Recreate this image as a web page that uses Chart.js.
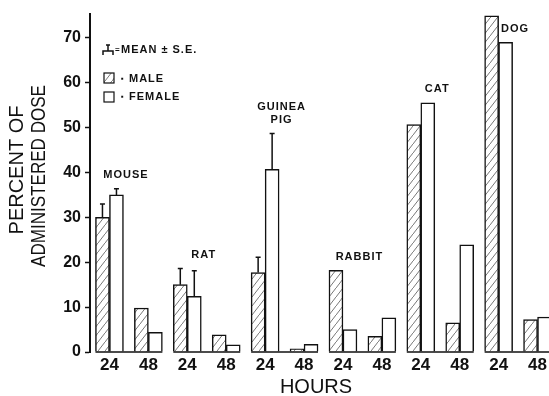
<!DOCTYPE html>
<html lang="en">
<head>
  <meta charset="UTF-8" />
  <title>Percent of Administered Dose</title>
  <script src="https://cdn.jsdelivr.net/npm/chart.js"></script>
  <style>
    html, body { margin: 0; padding: 0; background: #fff; overflow: hidden; }
  </style>
</head>
<body>
  <canvas id="doseChart" width="557" height="396"></canvas>

  <script>
    // values, percent of administered dose
    const species = ['MOUSE', 'RAT', 'GUINEA PIG', 'RABBIT', 'CAT', 'DOG'];
    const hours = ['24', '48'];
    const male24 = [30, 15, 17.7, 18.2, 50.7, 74.9];
    const female24 = [35, 12.4, 40.7, 5.0, 55.5, 69.0];
    const male48 = [9.8, 3.8, 0.7, 3.5, 6.5, 7.2];
    const female48 = [4.4, 1.6, 1.7, 7.6, 23.9, 7.8];
    // S.E. only shown for the 24 h bars of the first three species
    const maleErr24 = [3.0, 3.6, 3.4, null, null, null];
    const femaleErr24 = [1.4, 5.7, 8.0, null, null, null];
    const yTicks = [0, 10, 20, 30, 40, 50, 60, 70];

    const ink = '#111';
    const FONT = '"Liberation Sans", Arial, sans-serif';

    // one category per species/hour pair
    const labels = species.flatMap(() => hours);
    const maleData = species.flatMap((s, i) => [male24[i], male48[i]]);
    const femaleData = species.flatMap((s, i) => [female24[i], female48[i]]);
    const maleErr = species.flatMap((s, i) => [maleErr24[i], null]);
    const femaleErr = species.flatMap((s, i) => [femaleErr24[i], null]);

    // diagonal hatch for the male bars
    function makeHatch() {
      const c = document.createElement('canvas');
      c.width = 7; c.height = 9;
      const g = c.getContext('2d');
      g.fillStyle = '#fff';
      g.fillRect(0, 0, 7, 9);
      g.strokeStyle = '#555';
      g.lineWidth = 0.8;
      g.beginPath();
      g.moveTo(-1, 10.3); g.lineTo(8, -1.3);
      g.stroke();
      return g.createPattern(c, 'repeat');
    }
    const hatch = makeHatch();

    const figurePlugin = {
      id: 'figure',
      afterDatasetsDraw(chart) {
        const { ctx } = chart;
        const y = chart.scales.y;
        const metas = [chart.getDatasetMeta(0), chart.getDatasetMeta(1)];
        ctx.save();
        ctx.strokeStyle = ink;
        ctx.fillStyle = ink;
        ctx.lineWidth = 1.5;

        // error bars (upper half only)
        chart.data.datasets.forEach((ds, d) => {
          metas[d].data.forEach((bar, i) => {
            const e = ds.errors[i];
            if (e == null) return;
            const top = y.getPixelForValue(ds.data[i] + e);
            ctx.beginPath();
            ctx.moveTo(bar.x, bar.y);
            ctx.lineTo(bar.x, top);
            ctx.moveTo(bar.x - 2.5, top);
            ctx.lineTo(bar.x + 2.5, top);
            ctx.stroke();
          });
        });

        // baseline under each species group
        const y0 = y.getPixelForValue(0);
        species.forEach((s, i) => {
          const a = metas[0].data[2 * i];
          const b = metas[1].data[2 * i + 1];
          ctx.beginPath();
          ctx.moveTo(a.x - a.width / 2, y0);
          ctx.lineTo(b.x + b.width / 2, y0);
          ctx.stroke();
        });

        // species names above the 24 h bars
        ctx.font = 'bold 11px ' + FONT;
        ctx.letterSpacing = '1px';
        ctx.textAlign = 'center';
        ctx.textBaseline = 'middle';
        species.forEach((s, i) => {
          const a = metas[0].data[2 * i];
          const b = metas[1].data[2 * i + 1];
          const cx = (a.x + b.x) / 2 - 3;
          const top24 = Math.max(male24[i] + (maleErr24[i] || 0), female24[i] + (femaleErr24[i] || 0));
          const py = y.getPixelForValue(Math.min(top24 + 3, 72));
          const lines = s.split(' ');
          lines.forEach((t, k) => {
            ctx.fillText(t, cx, py - (lines.length - 1 - k) * 13);
          });
        });
        ctx.letterSpacing = '0px';

        // key
        ctx.beginPath();
        ctx.moveTo(108, 45); ctx.lineTo(108, 51);
        ctx.moveTo(106, 45); ctx.lineTo(110, 45);
        ctx.moveTo(103, 55); ctx.lineTo(103, 51); ctx.lineTo(113, 51); ctx.lineTo(113, 55);
        ctx.stroke();
        ctx.lineWidth = 1.2;
        ctx.fillStyle = hatch;
        ctx.fillRect(104, 73, 10, 10);
        ctx.strokeRect(104, 73, 10, 10);
        ctx.fillStyle = '#fff';
        ctx.fillRect(104, 92, 10, 10);
        ctx.strokeRect(104, 92, 10, 10);
        ctx.fillStyle = ink;
        ctx.textAlign = 'left';
        ctx.font = 'bold 8px ' + FONT;
        ctx.fillText('=', 115, 50);
        ctx.fillText('\u25AA', 121, 79);
        ctx.fillText('\u25AA', 121, 97);
        ctx.font = 'bold 11px ' + FONT;
        ctx.letterSpacing = '1px';
        ctx.fillText('MEAN \u00B1 S.E.', 121, 50);
        ctx.fillText('MALE', 129, 79);
        ctx.fillText('FEMALE', 129, 97);
        ctx.letterSpacing = '0px';

        // axis titles
        ctx.font = '20px ' + FONT;
        ctx.textAlign = 'center';
        ctx.fillText('HOURS', 316, 387);
        ctx.save();
        ctx.translate(17.5, 170);
        ctx.rotate(-Math.PI / 2);
        ctx.fillText('PERCENT OF', 0, 0);
        ctx.restore();
        ctx.save();
        ctx.translate(39.5, 176);
        ctx.rotate(-Math.PI / 2);
        ctx.fillText('ADMINISTERED DOSE', 0, 0, 182);
        ctx.restore();

        ctx.restore();
      }
    };

    const ctx = document.getElementById('doseChart').getContext('2d');
    new Chart(ctx, {
      type: 'bar',
      data: {
        labels: labels,
        datasets: [
          {
            label: 'MALE',
            data: maleData,
            errors: maleErr,
            backgroundColor: hatch,
            borderColor: ink,
            borderWidth: 1.5,
            barThickness: 14
          },
          {
            label: 'FEMALE',
            data: femaleData,
            errors: femaleErr,
            backgroundColor: '#fff',
            borderColor: ink,
            borderWidth: 1.5,
            barThickness: 14
          }
        ]
      },
      options: {
        responsive: false,
        animation: false,
        devicePixelRatio: 1,
        layout: { padding: { top: 12, left: 0, right: 0, bottom: 0 } },
        plugins: {
          legend: { display: false },
          tooltip: { enabled: false }
        },
        scales: {
          x: {
            grid: { display: false, drawTicks: false },
            border: { display: false },
            ticks: {
              color: ink,
              font: { family: FONT, size: 17, weight: 'bold' },
              padding: 3,
              maxRotation: 0,
              autoSkip: false
            },
            afterFit(s) { s.height = 44; }
          },
          y: {
            min: 0,
            max: 75.4,
            afterBuildTicks(s) { s.ticks = yTicks.map(v => ({ value: v })); },
            ticks: {
              color: ink,
              font: { family: FONT, size: 16, weight: 'bold' },
              padding: 4
            },
            grid: { drawOnChartArea: false, tickLength: 5, tickColor: ink, tickWidth: 1.5 },
            border: { color: ink, width: 2 },
            afterFit(s) { s.width = 90; }
          }
        }
      },
      plugins: [figurePlugin]
    });
  </script>
</body>
</html>
